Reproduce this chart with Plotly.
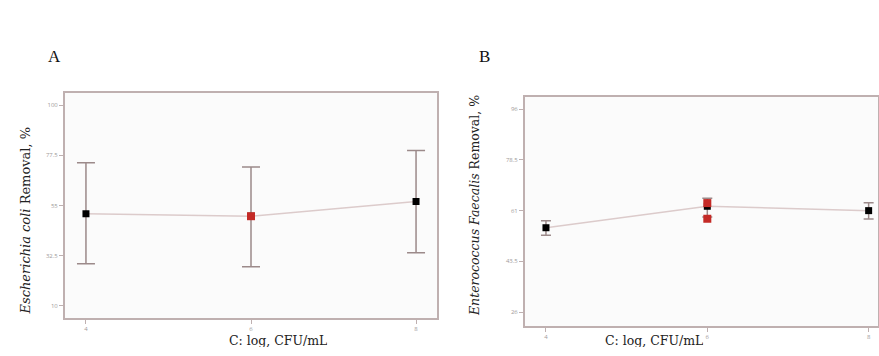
import plotly.graph_objects as go

# ---- data ----
x_pos = [0, 1, 2]
x_ticklabels = ["4", "6", "8"]

a_mean = [51.3, 50.2, 56.8]
a_err_plus = [22.9, 22.1, 22.8]
a_err_minus = [22.4, 22.6, 23.0]
a_yticks = [10, 32.5, 55, 77.5, 100]
a_center_pts = [50.2]

b_mean = [55.1, 62.5, 61.0]
b_err_plus = [2.4, 2.8, 2.7]
b_err_minus = [2.6, 3.7, 2.9]
b_yticks = [26, 43.5, 61, 78.5, 96]
b_center_pts = [63.6, 58.2]

W, H = 879, 356
def px(x): return x / W
def py(y): return 1 - y / H

LINE_C = "#dccbcb"
ERR_C = "#9c8a8a"
FRAME_C = "#bfb0b0"
SERIF = "DejaVu Serif, Liberation Serif, serif"

fig = go.Figure()

def add_panel(xa, ya, mean, ep, em, center, capw):
    fig.add_trace(go.Scatter(x=x_pos, y=mean, mode="lines",
                             line=dict(color=LINE_C, width=1.5),
                             xaxis=xa, yaxis=ya, showlegend=False, hoverinfo="skip"))
    fig.add_trace(go.Scatter(x=x_pos, y=mean, mode="markers",
                             marker=dict(symbol="square", size=7, color="black"),
                             error_y=dict(type="data", array=ep, arrayminus=em,
                                          color=ERR_C, thickness=1.5, width=capw),
                             xaxis=xa, yaxis=ya, showlegend=False, cliponaxis=False))
    fig.add_trace(go.Scatter(x=[x_pos[1]] * len(center), y=center, mode="markers",
                             marker=dict(symbol="square", size=8, color="#c42a26"),
                             xaxis=xa, yaxis=ya, showlegend=False))

add_panel("x", "y", a_mean, a_err_plus, a_err_minus, a_center_pts, 9)
add_panel("x2", "y2", b_mean, b_err_plus, b_err_minus, b_center_pts, 5)

axis_common = dict(showgrid=False, zeroline=False, showline=True, linecolor=FRAME_C,
                   linewidth=2, mirror=True, ticks="outside", ticklen=4,
                   tickcolor=FRAME_C, tickfont=dict(size=6, color="#a09a9a"))

fig.update_layout(
    width=W, height=H, margin=dict(l=0, r=0, t=0, b=0),
    paper_bgcolor="white", plot_bgcolor="#fbfbfb",
    xaxis=dict(domain=[px(65), px(437)], range=[-0.127, 2.127],
               tickvals=x_pos, ticktext=x_ticklabels, anchor="y", **axis_common),
    yaxis=dict(domain=[py(318), py(93)], range=[4.6, 105.4],
               tickvals=a_yticks, anchor="x", **axis_common),
    xaxis2=dict(domain=[px(525), px(878)], range=[-0.13, 2.058],
                tickvals=x_pos, ticktext=x_ticklabels, anchor="y2", **axis_common),
    yaxis2=dict(domain=[py(326), py(97)], range=[21.2, 100.2],
                tickvals=b_yticks, anchor="x2", **axis_common),
    annotations=[
        dict(text="A", x=px(46), y=py(45), xref="paper", yref="paper", showarrow=False,
             font=dict(family="Liberation Serif, serif", size=17, color="#111")),
        dict(text="B", x=px(484), y=py(45), xref="paper", yref="paper", showarrow=False,
             font=dict(family="Liberation Serif, serif", size=17, color="#111")),
        dict(text="<i>Escherichia coli</i> Removal, %", x=px(15), y=py(221),
             xref="paper", yref="paper", showarrow=False, textangle=-90,
             font=dict(family=SERIF, size=13, color="#222")),
        dict(text="<i>Enterococcus Faecalis</i> Removal, %", x=px(474), y=py(206),
             xref="paper", yref="paper", showarrow=False, textangle=-90,
             font=dict(family=SERIF, size=12.5, color="#222")),
        dict(text="C: log, CFU/mL", x=px(227), y=py(348.5), xref="paper", yref="paper",
             showarrow=False, height=13, font=dict(family=SERIF, size=12.5, color="#222")),
        dict(text="C: log, CFU/mL", x=px(705), y=py(348.5), xref="paper", yref="paper",
             showarrow=False, height=13, font=dict(family=SERIF, size=12.5, color="#222")),
    ],
)

fig.write_html("out.html", config={"displayModeBar": False},
               post_script="document.body.style.margin='0';document.body.style.overflow='hidden';")
